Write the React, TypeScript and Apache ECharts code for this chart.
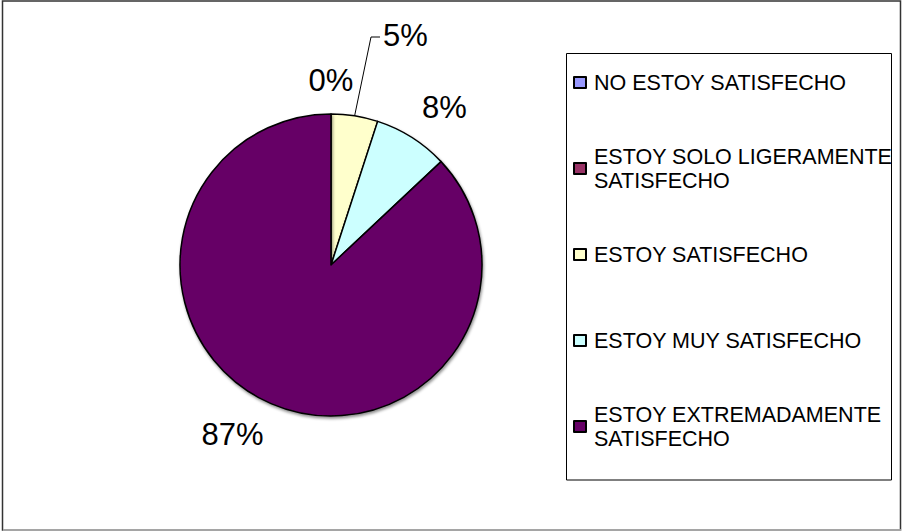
import React, { useEffect, useRef } from "react";
import * as echarts from "echarts";

const categories = [
  "NO ESTOY SATISFECHO",
  "ESTOY SOLO LIGERAMENTE SATISFECHO",
  "ESTOY SATISFECHO",
  "ESTOY MUY SATISFECHO",
  "ESTOY EXTREMADAMENTE SATISFECHO",
];
const legendLines = [
  "NO ESTOY SATISFECHO",
  "ESTOY SOLO LIGERAMENTE\nSATISFECHO",
  "ESTOY SATISFECHO",
  "ESTOY MUY SATISFECHO",
  "ESTOY EXTREMADAMENTE\nSATISFECHO",
];
const values = [0, 0, 5, 8, 87];
const colors = ["#9999FF", "#993366", "#FFFFCC", "#CCFFFF", "#660066"];

const FONT = "'Liberation Sans', Arial, sans-serif";
const CX = 331;
const CY = 265;
const R = 151;

export default function App() {
  const ref = useRef<HTMLDivElement>(null);

  useEffect(() => {
    if (!ref.current) return;
    const chart = echarts.init(ref.current, null, { renderer: "svg" });
    const total = values.reduce((a, b) => a + b, 0);

    const option: any = {
      animation: false,
      backgroundColor: "#ffffff",
      graphic: [
        {
          type: "rect",
          shape: { x: 2.5, y: 1, width: 898, height: 529 },
          style: { fill: "none", stroke: "#333", lineWidth: 1.5 },
          silent: true,
        },
        {
          type: "line",
          shape: { x1: 3, y1: 530, x2: 901, y2: 530 },
          style: { stroke: "#bbbbbb", lineWidth: 1.5 },
          silent: true,
        },
        {
          type: "rect",
          shape: { x: 566.5, y: 53.5, width: 325, height: 426.5 },
          style: { fill: "none", stroke: "#000", lineWidth: 1 },
          silent: true,
        },
      ],
      legend: {
        orient: "vertical",
        left: 573,
        top: 46.5,
        padding: 0,
        itemGap: 14,
        itemWidth: 12,
        itemHeight: 11,
        icon: "rect",
        selectedMode: false,
        itemStyle: { borderColor: "#000", borderWidth: 2 },
        textStyle: {
          fontFamily: FONT,
          fontSize: 21.5,
          lineHeight: 24,
          color: "#000",
        },
        formatter: (name: string) => legendLines[categories.indexOf(name)],
        data: categories.map((name, i) => ({
          name,
          textStyle: {
            padding: legendLines[i].includes("\n") ? [24, 0, 0, 3] : [24, 0, 24, 3],
          },
        })),
      },
      series: [
        {
          type: "pie",
          center: [CX, CY],
          radius: R,
          startAngle: 90,
          clockwise: true,
          avoidLabelOverlap: false,
          itemStyle: {
            borderColor: "#000",
            borderWidth: 1.5,
            shadowColor: "rgba(0,0,0,0.45)",
            shadowBlur: 3,
            shadowOffsetX: 1,
            shadowOffsetY: 2,
          },
          emphasis: { disabled: true },
          label: {
            show: true,
            position: "outside",
            fontFamily: FONT,
            fontSize: 31,
            color: "#000",
            formatter: (p: any) => Math.round(p.percent) + "%",
          },
          labelLine: { show: false, lineStyle: { color: "#000", width: 1 } },
          labelLayout: (params: any) => {
            const i = params.dataIndex;
            let before = 0;
            for (let j = 0; j < i; j++) before += values[j];
            const a = ((before + values[i] / 2) / total) * Math.PI * 2;
            const sx = Math.sin(a);
            const sy = -Math.cos(a);
            if (i === 2) {
              const edge = [CX + R * sx, CY + R * sy];
              return {
                x: CX + 52,
                y: CY - 230,
                align: "left",
                verticalAlign: "middle",
                labelLinePoints: [edge, [CX + 40, CY - 228], [CX + 49, CY - 228]],
              };
            }
            const ax = CX + 170 * sx;
            const ay = CY + 172 * sy;
            const align = Math.abs(sx) < 0.2 ? "center" : sx > 0 ? "left" : "right";
            return {
              x: ax,
              y: ay + (sy < 0 ? -12.5 : 11.5),
              align,
              verticalAlign: "middle",
            };
          },
          data: categories.map((name, i) => ({
            name,
            value: values[i],
            itemStyle: { color: colors[i] },
            label: { show: i !== 1 },
            labelLine: { show: i === 2 },
          })),
        },
      ],
    };

    chart.setOption(option);
    return () => chart.dispose();
  }, []);

  return (
    <div
      ref={ref}
      style={{ position: "absolute", left: 0, top: 0, width: 903, height: 531 }}
    />
  );
}
